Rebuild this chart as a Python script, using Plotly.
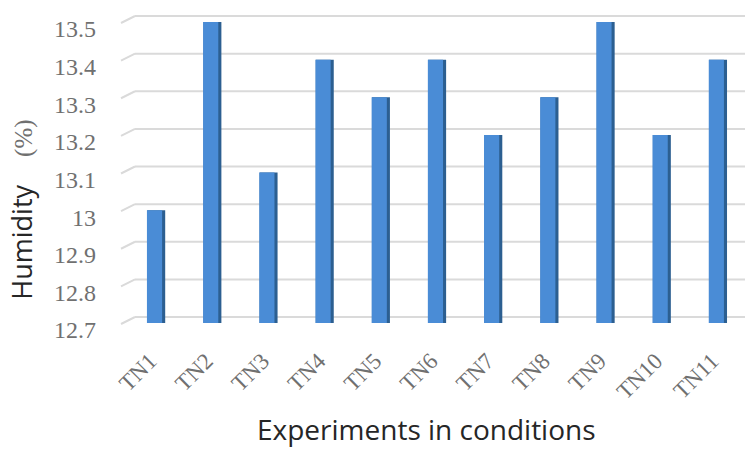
import plotly.graph_objects as go

# Humidity measured in each experimental condition
conditions = ["TN1", "TN2", "TN3", "TN4", "TN5", "TN6", "TN7", "TN8", "TN9", "TN10", "TN11"]
humidity = [13.0, 13.5, 13.1, 13.4, 13.3, 13.4, 13.2, 13.3, 13.5, 13.2, 13.4]
y_ticks = [12.7, 12.8, 12.9, 13.0, 13.1, 13.2, 13.3, 13.4, 13.5]
y_tick_text = ["12.7", "12.8", "12.9", "13", "13.1", "13.2", "13.3", "13.4", "13.5"]
floor = 12.7

FRONT = "#4a8cd6"
SIDE = "#2c5f91"
GRID = "#dadada"
LABEL_GRAY = "#707070"

fig = go.Figure()

# dark right-hand face of each column
fig.add_trace(go.Bar(
    x=conditions, y=[v - floor for v in humidity], base=floor,
    width=0.32, offset=-0.14, marker=dict(color=SIDE, line=dict(width=0)),
    hoverinfo="skip", showlegend=False,
))
# front face of each column
fig.add_trace(go.Bar(
    x=conditions, y=[v - floor for v in humidity], base=floor,
    width=0.27, offset=-0.145, marker=dict(color=FRONT, line=dict(width=0)),
    customdata=humidity, hovertemplate="%{x}: %{customdata}%<extra></extra>",
    showlegend=False,
))

# back-wall gridlines with a short perspective edge on the left
shapes = []
for v in y_ticks:
    shapes.append(dict(
        type="line", xref="paper", yref="y", ysizemode="pixel", yanchor=v,
        x0=8 / 618, x1=1, y0=6, y1=6, line=dict(color=GRID, width=2), layer="below",
    ))
    shapes.append(dict(
        type="line", xref="paper", yref="y", xsizemode="pixel", ysizemode="pixel",
        xanchor=0, yanchor=v, x0=-6, x1=8, y0=-1, y1=6,
        line=dict(color=GRID, width=2), layer="below",
    ))

fig.update_layout(
    width=745, height=450,
    margin=dict(l=127, r=0, t=10, b=120),
    paper_bgcolor="white", plot_bgcolor="white",
    barmode="overlay",
    shapes=shapes,
    xaxis=dict(
        type="category", categoryorder="array", categoryarray=conditions,
        range=[-0.5, 10.5], showgrid=False, showline=False, zeroline=False,
        tickangle=-45, tickfont=dict(family="Liberation Serif", size=23, color=LABEL_GRAY),
        ticklabelstandoff=12, ticklabelshift=-5,
    ),
    yaxis=dict(
        range=[12.6814, 13.5319], showgrid=False, zeroline=False, showline=False,
        tickmode="array", tickvals=y_ticks, ticktext=y_tick_text,
        tickfont=dict(family="Liberation Serif", size=24, color=LABEL_GRAY),
        ticklabelshift=7, ticklabelstandoff=30,
    ),
    annotations=[
        dict(
            text='Humidity    <span style="font-family:Liberation Serif;font-size:25px;color:#707070">(%)</span>',
            xref="paper", yref="paper", x=-0.172, y=0.375,
            xanchor="center", yanchor="middle", textangle=-90, showarrow=False,
            font=dict(family="Open Sans", size=27, color="#262626"),
        ),
        dict(
            text="Experiments in conditions",
            xref="paper", yref="paper", x=0.485, y=-0.31,
            xanchor="center", yanchor="middle", showarrow=False,
            font=dict(family="Open Sans", size=28, color="#262626"),
        ),
    ],
)

fig.write_html("out.html")
